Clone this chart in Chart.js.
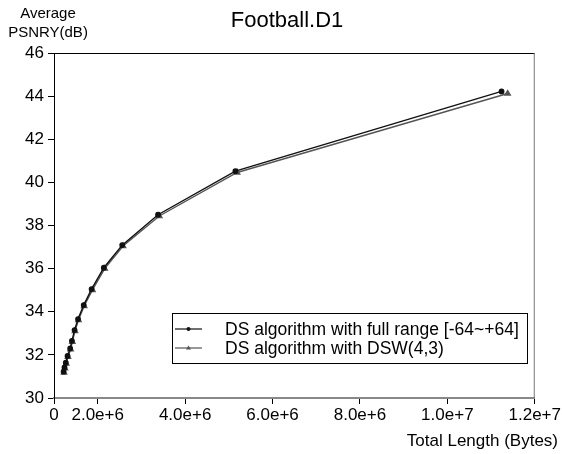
<!DOCTYPE html>
<html>
<head>
<meta charset="utf-8">
<script src="https://cdn.jsdelivr.net/npm/chart.js@4.4.0/dist/chart.umd.min.js"></script>
<style>
    html, body { margin: 0; padding: 0; background: #fff; }
    #grafico { display: block; }
</style>
</head>
<body>
<canvas id="grafico" width="562" height="454"></canvas>
<script>
// datos
const nombres = ['DS algorithm with full range [-64~+64]', 'DS algorithm with DSW(4,3)'];
const longitudFull = [1.22e6, 1.24e6, 1.27e6, 1.31e6, 1.37e6, 1.41e6, 1.47e6, 1.55e6, 1.68e6, 1.86e6, 2.14e6, 2.56e6, 3.38e6, 5.15e6, 11.24e6];
const psnrFull = [31.22, 31.42, 31.64, 31.95, 32.30, 32.65, 33.15, 33.66, 34.31, 35.05, 36.04, 37.09, 38.50, 40.52, 44.22];
const longitudDsw = [1.23e6, 1.25e6, 1.28e6, 1.32e6, 1.38e6, 1.42e6, 1.48e6, 1.56e6, 1.69e6, 1.88e6, 2.16e6, 2.58e6, 3.41e6, 5.19e6, 11.38e6];
const psnrDsw = [31.18, 31.38, 31.60, 31.91, 32.26, 32.61, 33.11, 33.62, 34.27, 35.01, 36.00, 37.05, 38.44, 40.46, 44.12];
const xTicks = [1e6, 2e6, 4e6, 6e6, 8e6, 1e7, 1.2e7];
const xEtiquetas = ['0', '2.0e+6', '4.0e+6', '6.0e+6', '8.0e+6', '1.0e+7', '1.2e+7'];
const yTicks = [30, 32, 34, 36, 38, 40, 42, 44, 46];

const fuente = "'Liberation Sans', Arial, sans-serif";
const colores = ['#111111', '#555555'];
const marcas = ['circle', 'triangle'];

function puntos(xs, ys) {
    let res = [];
    for (let i = 0; i < xs.length; i++) {
        res.push({ x: xs[i], y: ys[i] });
    }
    return res;
}

const decorado = {
    id: 'decorado',
    afterDraw(chart) {
        const ctx = chart.ctx;
        const a = chart.chartArea;
        ctx.save();
        // marco
        ctx.strokeStyle = '#000';
        ctx.lineWidth = 1;
        ctx.beginPath();
        ctx.moveTo(a.left, a.top + 0.5);
        ctx.lineTo(a.right, a.top + 0.5);
        ctx.stroke();
        ctx.strokeStyle = '#777';
        ctx.beginPath();
        ctx.moveTo(a.right - 0.5, a.top);
        ctx.lineTo(a.right - 0.5, a.bottom);
        ctx.stroke();
        // titulos
        ctx.fillStyle = '#000';
        ctx.textAlign = 'center';
        ctx.textBaseline = 'middle';
        ctx.font = '22px ' + fuente;
        ctx.fillText('Football.D1', 287, 21);
        ctx.font = '15px ' + fuente;
        ctx.fillText('Average', 48, 14);
        ctx.fillText('PSNRY(dB)', 48, 33);
        ctx.textAlign = 'right';
        ctx.font = '17px ' + fuente;
        ctx.fillText('Total Length (Bytes)', 558, 441);
        // leyenda
        ctx.strokeStyle = '#000';
        ctx.lineWidth = 1;
        ctx.strokeRect(172.5, 313.5, 355, 50);
        ctx.textAlign = 'left';
        ctx.font = '17.5px ' + fuente;
        const filas = [329, 348];
        for (let i = 0; i < nombres.length; i++) {
            const y = filas[i];
            ctx.strokeStyle = colores[i];
            ctx.lineWidth = 1.2;
            ctx.beginPath();
            ctx.moveTo(175, y);
            ctx.lineTo(202, y);
            ctx.stroke();
            ctx.fillStyle = colores[i];
            ctx.beginPath();
            if (i == 0) {
                ctx.arc(188.5, y, 2, 0, Math.PI * 2);
            } else {
                ctx.moveTo(188.5, y - 2.5);
                ctx.lineTo(191, y + 1.5);
                ctx.lineTo(186, y + 1.5);
                ctx.closePath();
            }
            ctx.fill();
            ctx.fillStyle = '#000';
            ctx.fillText(nombres[i], 225, y + 1);
        }
        ctx.restore();
    }
};

var ctx = document.getElementById('grafico');
var myChart = new Chart(ctx, {
    type: 'scatter',
    data: {
        datasets: [{
            label: nombres[0],
            data: puntos(longitudFull, psnrFull),
            showLine: true,
            borderColor: colores[0],
            backgroundColor: colores[0],
            borderWidth: 1.4,
            pointStyle: marcas[0],
            pointRadius: 2.2,
        }, {
            label: nombres[1],
            data: puntos(longitudDsw, psnrDsw),
            showLine: true,
            borderColor: colores[1],
            backgroundColor: colores[1],
            borderWidth: 1.4,
            pointStyle: marcas[1],
            pointRadius: 3,
        }],
    },
    options: {
        responsive: false,
        animation: false,
        devicePixelRatio: 1,
        layout: { padding: { top: 53, right: 26, left: 0, bottom: 0 } },
        plugins: {
            legend: { display: false },
            title: { display: false },
            tooltip: { enabled: false },
        },
        scales: {
            x: {
                type: 'linear',
                min: 1e6,
                max: 1.2e7,
                afterBuildTicks: function (s) {
                    s.ticks = xTicks.map(v => ({ value: v }));
                },
                afterFit: function (s) { s.height = 56; },
                ticks: {
                    callback: function (v, i) { return xEtiquetas[i]; },
                    font: { family: fuente, size: 17 },
                    color: '#000',
                    maxRotation: 0,
                    autoSkip: false,
                    padding: 1,
                },
                grid: { drawOnChartArea: false, tickLength: 6, color: '#000' },
                border: { color: '#888', width: 2 },
            },
            y: {
                min: 30,
                max: 46,
                afterBuildTicks: function (s) {
                    s.ticks = yTicks.map(v => ({ value: v }));
                },
                afterFit: function (s) { s.width = 54; },
                ticks: {
                    callback: function (v) { return v; },
                    font: { family: fuente, size: 17 },
                    color: '#000',
                    padding: 4,
                },
                grid: { drawOnChartArea: false, tickLength: 6, color: '#000' },
                border: { color: '#000', width: 1 },
            },
        },
    },
    plugins: [decorado],
});
</script>
</body>
</html>
